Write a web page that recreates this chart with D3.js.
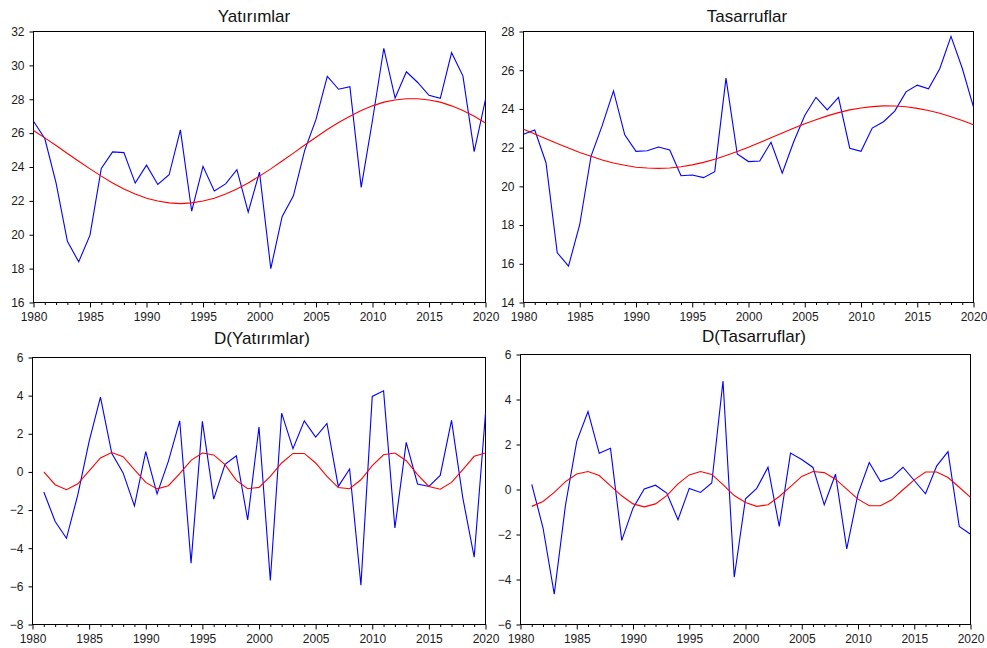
<!DOCTYPE html>
<html>
<head>
<meta charset="utf-8">
<script src="https://cdn.jsdelivr.net/npm/d3@7"></script>
<style>
  body { margin: 0; background: #fff; }
  svg { display: block; font-family: "Liberation Sans", Arial, sans-serif; }
  .tick text { font-size: 12px; fill: #1a1a1a; }
  .title { font-size: 17px; fill: #111; }
</style>
</head>
<body>
<div id="chart"></div>
<script>
// DATA
const years = d3.range(1980, 2021);
const dYears = d3.range(1981, 2021);

const yatirim = [26.70, 25.68, 23.05, 19.61, 18.40, 19.98, 23.92, 24.89, 24.85, 23.05,
    24.11, 22.97, 23.54, 26.19, 21.39, 24.04, 22.59, 23.00, 23.84, 21.33,
    23.70, 18.00, 21.07, 22.30, 24.98, 26.81, 29.35, 28.59, 28.74, 22.80,
    26.76, 31.01, 28.07, 29.62, 28.99, 28.23, 28.05, 30.75, 29.38, 24.91, 27.99];
const yatirimTrend = [26.15, 25.72, 25.27, 24.80, 24.34, 23.89, 23.46, 23.06, 22.70, 22.40,
    22.16, 21.99, 21.88, 21.84, 21.88, 21.99, 22.16, 22.40, 22.70, 23.06,
    23.46, 23.89, 24.35, 24.82, 25.30, 25.76, 26.21, 26.63, 27.00, 27.33,
    27.61, 27.83, 27.96, 28.03, 28.03, 27.96, 27.83, 27.61, 27.33, 27.00, 26.60];

const tasarruf = [22.69, 22.91, 21.22, 16.57, 15.88, 18.03, 21.55, 23.15, 24.93, 22.66,
    21.81, 21.84, 22.03, 21.88, 20.55, 20.59, 20.45, 20.76, 25.59, 21.67,
    21.28, 21.31, 22.28, 20.68, 22.28, 23.66, 24.60, 23.95, 24.60, 21.97,
    21.81, 23.01, 23.34, 23.89, 24.88, 25.23, 25.04, 26.08, 27.75, 26.10, 24.09];
const tasarrufTrend = [22.95, 22.71, 22.46, 22.21, 21.98, 21.75, 21.55, 21.36, 21.21, 21.09,
    20.99, 20.95, 20.93, 20.95, 21.01, 21.11, 21.24, 21.40, 21.59, 21.80,
    22.02, 22.26, 22.51, 22.76, 23.00, 23.23, 23.44, 23.64, 23.81, 23.95,
    24.05, 24.12, 24.16, 24.15, 24.11, 24.03, 23.92, 23.78, 23.60, 23.40, 23.18];

const dYatirim = [-1.05, -2.60, -3.48, -1.20, 1.60, 3.92, 0.98, -0.05, -1.78, 1.07,
    -1.15, 0.57, 2.68, -4.78, 2.65, -1.43, 0.40, 0.85, -2.52, 2.36,
    -5.69, 3.08, 1.22, 2.68, 1.83, 2.54, -0.76, 0.15, -5.94, 3.96,
    4.25, -2.94, 1.55, -0.63, -0.76, -0.18, 2.70, -1.37, -4.47, 3.08];
const dYatirimTrend = [0.00, -0.67, -0.93, -0.62, 0.05, 0.73, 1.02, 0.80, 0.12, -0.55,
    -0.89, -0.72, -0.09, 0.61, 0.99, 0.89, 0.38, -0.44, -0.88, -0.81,
    -0.23, 0.47, 0.97, 0.97, 0.47, -0.23, -0.82, -0.88, -0.41, 0.33,
    0.90, 0.99, 0.59, -0.14, -0.76, -0.91, -0.55, 0.12, 0.82, 0.99];

const dTasarruf = [0.23, -1.70, -4.65, -0.69, 2.14, 3.46, 1.61, 1.83, -2.26, -0.83,
    0.02, 0.19, -0.16, -1.34, 0.05, -0.13, 0.29, 4.82, -3.90, -0.41,
    0.05, 0.99, -1.64, 1.62, 1.33, 0.98, -0.68, 0.68, -2.64, -0.19,
    1.20, 0.35, 0.53, 0.99, 0.40, -0.19, 1.05, 1.68, -1.64, -1.99];
const dTasarrufTrend = [-0.75, -0.53, -0.13, 0.35, 0.69, 0.80, 0.62, 0.16, -0.28, -0.64,
    -0.77, -0.64, -0.27, 0.25, 0.65, 0.80, 0.67, 0.22, -0.27, -0.58,
    -0.75, -0.68, -0.31, 0.13, 0.58, 0.80, 0.75, 0.46, 0.02, -0.43,
    -0.72, -0.72, -0.46, -0.01, 0.43, 0.78, 0.78, 0.53, 0.10, -0.35];

const yatirimTicks = d3.range(16, 33, 2);
const tasarrufTicks = d3.range(14, 29, 2);
const dYatirimTicks = d3.range(-8, 7, 2);
const dTasarrufTicks = d3.range(-6, 7, 2);

// SVG
const width = 987, height = 648;
const svg = d3.select("#chart")
    .append("svg")
    .attr("width", width)
    .attr("height", height);

svg.append("rect")
    .attr("width", width)
    .attr("height", height)
    .attr("fill", "#fff");

// PANELS
drawPanel({title: "Yatırımlar", titleX: 254, titleY: 22,
    left: 33.5, right: 485.5, top: 31.5, bottom: 302.5,
    x: years, y: yatirim, trendX: years, trend: yatirimTrend, yTicks: yatirimTicks});

drawPanel({title: "Tasarruflar", titleX: 747, titleY: 22,
    left: 523.5, right: 973.5, top: 31.5, bottom: 302.5,
    x: years, y: tasarruf, trendX: years, trend: tasarrufTrend, yTicks: tasarrufTicks});

drawPanel({title: "D(Yatırımlar)", titleX: 262, titleY: 344,
    left: 32.5, right: 485.5, top: 357.5, bottom: 624.5,
    x: dYears, y: dYatirim, trendX: dYears, trend: dYatirimTrend, yTicks: dYatirimTicks});

drawPanel({title: "D(Tasarruflar)", titleX: 754, titleY: 342,
    left: 520.5, right: 970.5, top: 354.5, bottom: 624.5,
    x: dYears, y: dTasarruf, trendX: dYears, trend: dTasarrufTrend, yTicks: dTasarrufTicks});

function drawPanel(p) {
    let g = svg.append("g");

    let xScale = d3.scaleLinear()
        .domain([1980, 2020])
        .range([p.left, p.right]);

    let yScale = d3.scaleLinear()
        .domain([p.yTicks[0], p.yTicks[p.yTicks.length - 1]])
        .range([p.bottom, p.top]);

    //X AXIS
    const xAxis = d3.axisBottom(xScale)
        .tickValues(years)
        .tickSize(5)
        .tickPadding(5)
        .tickFormat(d => d % 5 === 0 ? d : "");
    let xg = g.append("g")
        .attr("transform", "translate(0," + p.bottom + ")")
        .call(xAxis);
    xg.select(".domain").remove();
    xg.selectAll(".tick line")
        .attr("stroke", "#000")
        .attr("y2", d => d % 5 === 0 ? 5 : 2.5);

    //Y AXIS
    const yAxis = d3.axisLeft(yScale)
        .tickValues(p.yTicks)
        .tickSize(4)
        .tickPadding(5)
        .tickFormat(d3.format("d"));
    let yg = g.append("g")
        .attr("transform", "translate(" + p.left + ",0)")
        .call(yAxis);
    yg.select(".domain").remove();
    yg.selectAll(".tick line").attr("stroke", "#000");

    g.selectAll(".tick text").attr("font-family", null).attr("font-size", null);

    //FRAME
    g.append("rect")
        .attr("x", p.left)
        .attr("y", p.top)
        .attr("width", p.right - p.left)
        .attr("height", p.bottom - p.top)
        .attr("fill", "none")
        .attr("stroke", "#000")
        .attr("stroke-width", 1);

    //LINES
    const line = d3.line()
        .x(d => xScale(d[0]))
        .y(d => yScale(d[1]));

    g.append("path")
        .attr("d", line(d3.zip(p.x, p.y)))
        .attr("fill", "none")
        .attr("stroke", "#0000ff")
        .attr("stroke-width", 1.1);

    g.append("path")
        .attr("d", line(d3.zip(p.trendX, p.trend)))
        .attr("fill", "none")
        .attr("stroke", "#ff0000")
        .attr("stroke-width", 1.1);

    //TITLE
    svg.append("text")
        .attr("class", "title")
        .attr("x", p.titleX)
        .attr("y", p.titleY)
        .attr("text-anchor", "middle")
        .text(p.title);
}
</script>
</body>
</html>
